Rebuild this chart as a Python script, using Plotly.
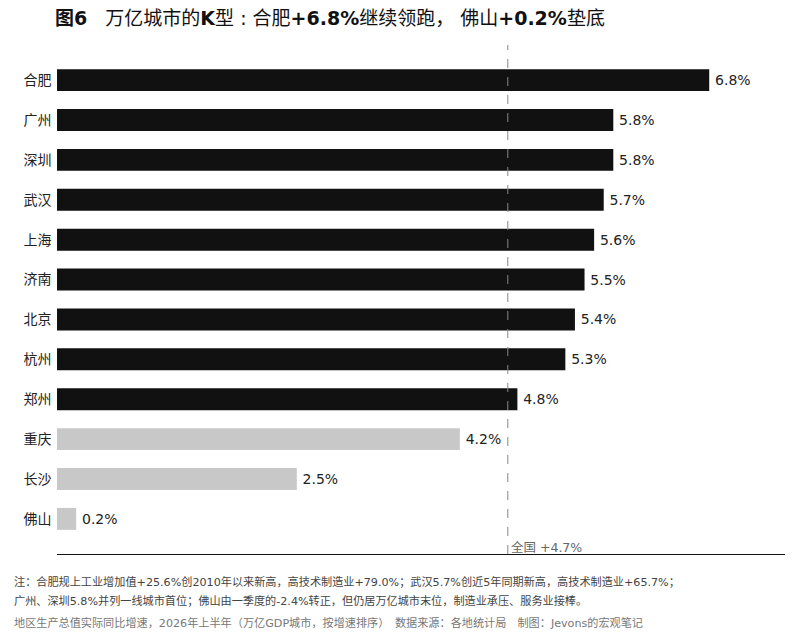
import plotly.graph_objects as go

cities = ["合肥", "广州", "深圳", "武汉", "上海", "济南", "北京", "杭州", "郑州", "重庆", "长沙", "佛山"]
growth = [6.8, 5.8, 5.8, 5.7, 5.6, 5.5, 5.4, 5.3, 4.8, 4.2, 2.5, 0.2]
national = 4.7

title = ("<b>图6</b>   万亿城市的<b>K</b>型 : 合肥<b>+6.8%</b>继续领跑，"
         " 佛山<b>+0.2%</b>垫底")
notes = [
    "注：合肥规上工业增加值+25.6%创2010年以来新高，高技术制造业+79.0%；武汉5.7%创近5年同期新高，高技术制造业+65.7%；",
    "广州、深圳5.8%并列一线城市首位；佛山由一季度的-2.4%转正，但仍居万亿城市末位，制造业承压、服务业接棒。",
    "地区生产总值实际同比增速，2026年上半年（万亿GDP城市，按增速排序）　数据来源：各地统计局　制图：Jevons的宏观笔记",
]

FONT = "DejaVu Sans, Noto Sans CJK SC, sans-serif"
W, H = 795, 639
OFF = 8  # page offset of the figure inside the browser window
# plot area in window pixels: x 57..785, y 45..554
X0, X1, Y0, Y1 = 57 - OFF, 785 - OFF, 45 - OFF, 554 - OFF


def px(xpx, ypx):
    """window pixel position -> paper coords of the plot area"""
    return (xpx - OFF - X0) / (X1 - X0), (Y1 - (ypx - OFF)) / (Y1 - Y0)


colors = ["#111111" if v > national else "#c8c8c8" for v in growth]

fig = go.Figure(go.Bar(
    x=growth, y=cities, orientation="h", width=0.55,
    marker=dict(color=colors, line=dict(width=0)),
    text=[f"\u2009{v:.1f}%" for v in growth], textposition="outside",
    textfont=dict(size=14, color="#222222", family=FONT),
    cliponaxis=False, hoverinfo="skip",
))

# national average reference line
fig.add_shape(type="line", xref="x", yref="paper", x0=national, x1=national, y0=0, y1=1,
              line=dict(color="#888888", width=1, dash="dash"))
fig.add_annotation(x=national, xref="x", y=0, yref="paper", text=f"全国 +{national}%",
                   showarrow=False, xanchor="left", yanchor="bottom", xshift=1, yshift=-3,
                   font=dict(size=12.5, color="#666666", family=FONT))

tx, ty = px(53, 18)
fig.add_annotation(x=tx, y=ty, xref="paper", yref="paper", text=title, showarrow=False,
                   xanchor="left", yanchor="middle",
                   font=dict(size=19, color="#111111", family=FONT))

for txt, ypx, col in zip(notes, [582, 601, 623], ["#444444", "#444444", "#777777"]):
    nx, ny = px(12, ypx)
    fig.add_annotation(x=nx, y=ny, xref="paper", yref="paper", text=txt,
                       showarrow=False, xanchor="left", yanchor="middle",
                       font=dict(size=11.15, color=col, family=FONT))

fig.update_layout(
    width=W, height=H,
    margin=dict(l=X0, r=W - X1, t=Y0, b=H - Y1, autoexpand=False),
    paper_bgcolor="white", plot_bgcolor="white",
    showlegend=False,
    xaxis=dict(range=[0, 7.59], showgrid=False, zeroline=False, showticklabels=False,
               ticks="", showline=True, linecolor="#111111", linewidth=1, fixedrange=True,
               automargin=False),
    yaxis=dict(range=[11.88, -0.88], showgrid=False, zeroline=False, ticks="",
               ticksuffix=" ", tickfont=dict(size=14, color="#222222", family=FONT),
               fixedrange=True, automargin=False),
    font=dict(family=FONT),
)

fig.write_html("out.html")
